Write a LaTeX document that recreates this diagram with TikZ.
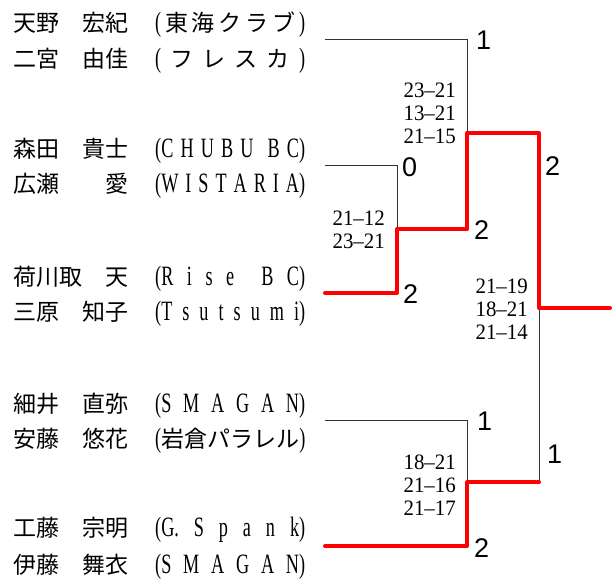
\documentclass[tikz,border=0pt]{standalone}
\usepackage{fontspec}
\usepackage{tikz}
\usetikzlibrary{positioning}
\setmainfont{Liberation Serif}
\newfontfamily\jpfont{Noto Sans CJK JP}
\newfontfamily\clubfont{Liberation Serif}[FakeStretch=0.65]
\newfontfamily\winfont{Liberation Sans}
\newfontfamily\scorefont{Liberation Serif}[FakeStretch=0.95]

\newcommand\spreadbox[2]{\makebox[#1][s]{\spaceskip=0pt plus 1fil\xspaceskip=0pt plus 1fil #2}}
\newcommand\jc[1]{{\jpfont\fontsize{23}{23}\selectfont #1}}
\newcommand\player[2]{\spreadbox{115pt}{\jc{#1}}\hspace{27pt}%
  {\clubfont\fontsize{28}{28}\selectfont\spreadbox{150pt}{#2}}}

\begin{document}
\begin{tikzpicture}
		[x=1pt,y=-1pt,every node/.style={inner sep=0pt},
		player/.style={anchor=base west},
		win/.style={anchor=west,font=\winfont\fontsize{27}{27}\selectfont},
		score/.style={anchor=east,align=right,font=\scorefont\fontsize{22}{23}\selectfont},
		lose/.style={draw=black!80,line width=0.8pt},
		won/.style={draw=red,line width=4pt,line cap=round,line join=round}]
		\useasboundingbox (0,0) rectangle (616,582);
		
		% teams
		\node[player] (p1) at (13,31) {\player{天野 宏紀}{( \jc{東 海 ク ラ ブ} )}};
		\node[player] (p2) at (13,67) {\player{二宮 由佳}{( \jc{フ レ ス カ} )}};
		\node[player] (p3) at (13,157) {\player{森田 貴士}{(C H U B U\ \ B C)}};
		\node[player] (p4) at (13,192) {\player{広瀬 愛}{(W I S T A R I A)}};
		\node[player] (p5) at (13,285) {\player{荷川取 天}{(R i s e\ \ B C)}};
		\node[player] (p6) at (13,320) {\player{三原 知子}{(T s u t s u m i)}};
		\node[player] (p7) at (13,412) {\player{細井 直弥}{(S M A G A N)}};
		\node[player] (p8) at (13,447) {\player{安藤 悠花}{(\jc{岩倉パラレル})}};
		\node[player] (p9) at (13,536) {\player{工藤 宗明}{(G. S p a n k)}};
		\node[player] (p10) at (13,573) {\player{伊藤 舞衣}{(S M A G A N)}};
		
		% bracket
		\coordinate (t1) at (325,39);
		\coordinate (t2) at (325,165);
		\coordinate (t3) at (325,293);
		\coordinate (t4) at (325,420);
		\coordinate (t5) at (325,546);
		\coordinate (qf) at (397,229);
		\coordinate (sf1) at (467,133);
		\coordinate (sf2) at (467,482);
		\coordinate (f) at (539,308);
		\coordinate (ch) at (610,308);
		
		\draw[lose] (t2) -| (qf);
		\draw[lose] (t1) -| (sf1);
		\draw[lose] (t4) -| (sf2);
		\draw[lose] (sf2) -| (f);
		\draw[won] (t3) -| (qf) -| (sf1) -| (f) -- (ch);
		\draw[won] (t5) -| (sf2) -- (sf2 -| f);
		
		% games won
		\foreach \x/\y/\n [count=\i] in
		{476/40/1, 402/167/0, 474/230/2, 403/294/2, 545/166/2,
		 477/421/1, 547/454/1, 474/548/2}
		\node[win] (w\i) at (\x,\y) {\n};
		
		% set scores
		\node[score] (s1) at (385,230) {21–12\\23–21};
		\node[score] (s2) at (456,113) {23–21\\13–21\\21–15};
		\node[score] (s3) at (528,309) {21–19\\18–21\\21–14};
		\node[score] (s4) at (456,485) {18–21\\21–16\\21–17};
\end{tikzpicture}
\end{document}
